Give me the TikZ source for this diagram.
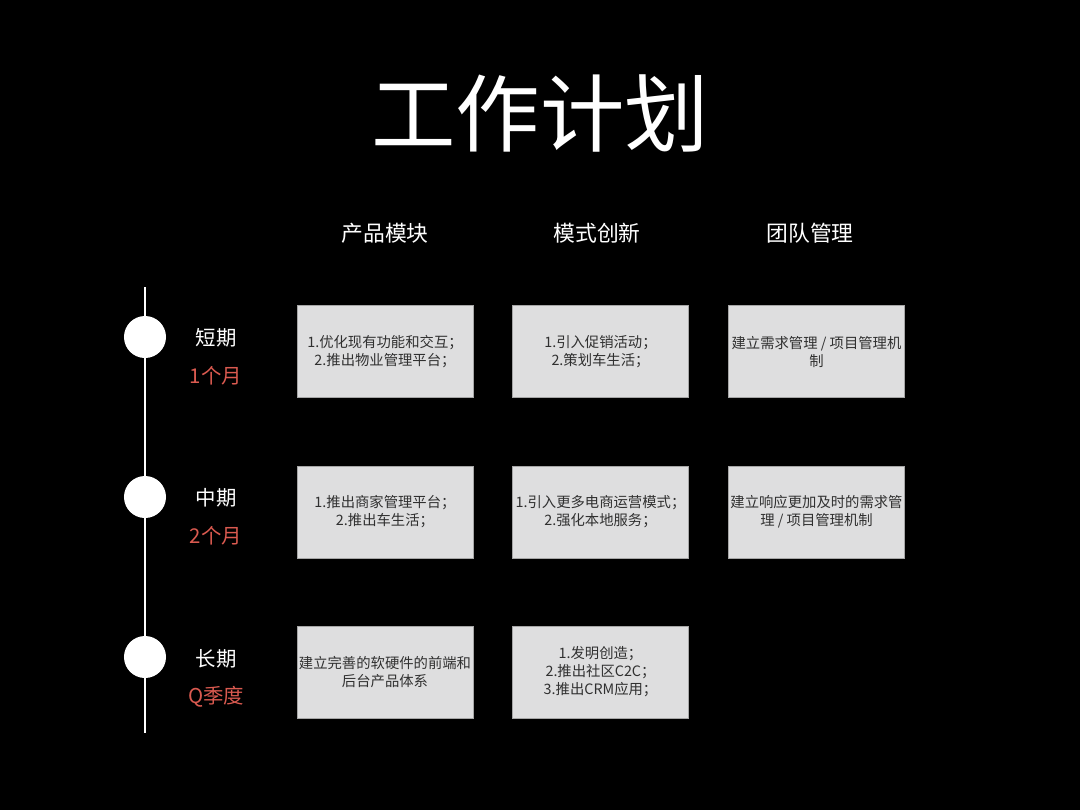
\documentclass[tikz,border=0pt]{standalone}
\usepackage{fontspec}
\setmainfont{Noto Sans CJK SC}
\definecolor{cellfill}{HTML}{DEDEDF}
\definecolor{celltext}{HTML}{303030}
\definecolor{termred}{HTML}{DA5A50}
\begin{document}
\begin{tikzpicture}[
    x=0.025cm, y=-0.025cm,
    box/.style={draw=gray!70, line width=0.5pt, fill=cellfill, minimum width=4.4cm, minimum height=2.3cm, align=center, inner sep=0pt, text=celltext, font=\fontsize{10.2}{12.8}\selectfont},
    head/.style={text=white, font=\fontsize{15.5}{18}\selectfont},
    term/.style={text=white, font=\fontsize{14.5}{17}\selectfont},
    span/.style={text=termred, font=\fontsize{14.5}{17}\selectfont},
    dot/.style={circle, fill=white, minimum size=1.05cm, inner sep=0pt}
]
\fill[black] (0,0) rectangle (1080,810);
\useasboundingbox (0,0) rectangle (1080,810);

% Title and headers
\node[text=white, font=\fontsize{60}{64}\selectfont] (title) at (540,113) {工作计划};
\node[head] (h1) at (385,233) {产品模块};
\node[head] (h2) at (597,233) {模式创新};
\node[head] (h3) at (810,233) {团队管理};

% Timeline
\coordinate (tltop) at (145,287);
\coordinate (tlbot) at (145,733);
\draw[white, line width=1.2pt] (tltop) -- (tlbot);
\node[dot] (d1) at (145,337) {};
\node[dot] (d2) at (145,497) {};
\node[dot] (d3) at (145,657) {};

\node[term] (t1) at (216,338) {短期};
\node[span] (s1) at (216,376) {1个月};
\node[term] (t2) at (216,498) {中期};
\node[span] (s2) at (216,536) {2个月};
\node[term] (t3) at (216,659) {长期};
\node[span] (s3) at (216,697) {Q季度};

% Row 1
\node[box] (c11) at (385,351.5) {1.优化现有功能和交互；\\2.推出物业管理平台；};
\node[box] (c12) at (600.5,351.5) {1.引入促销活动；\\2.策划车生活；};
\node[box] (c13) at (816.5,351.5) {建立需求管理 / 项目管理机\\制};

% Row 2
\node[box] (c21) at (385,512) {1.推出商家管理平台；\\2.推出车生活；};
\node[box] (c22) at (600.5,512) {1.引入更多电商运营模式；\\2.强化本地服务；};
\node[box] (c23) at (816.5,512) {建立响应更加及时的需求管\\理 / 项目管理机制};

% Row 3
\node[box] (c31) at (385,672) {建立完善的软硬件的前端和\\后台产品体系};
\node[box] (c32) at (600.5,672) {1.发明创造；\\2.推出社区C2C；\\3.推出CRM应用；};

\end{tikzpicture}
\end{document}
